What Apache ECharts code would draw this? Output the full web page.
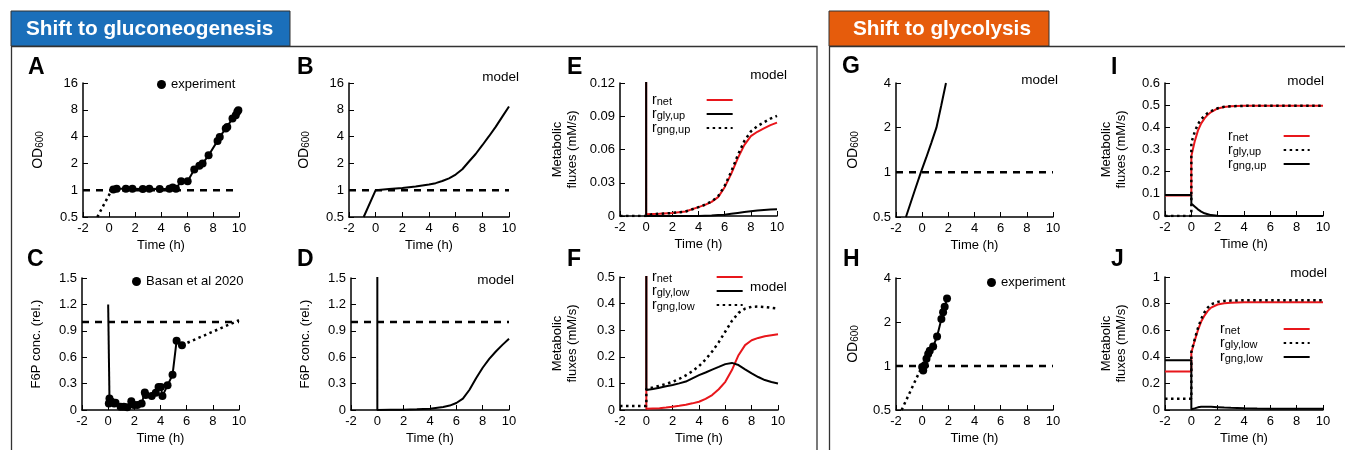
<!DOCTYPE html>
<html>
<head>
<meta charset="utf-8">
<script src="https://cdn.jsdelivr.net/npm/echarts@6/dist/echarts.min.js"></script>
<style>
  html, body { margin: 0; padding: 0; background: #fff; }
  #chart { width: 1345px; height: 450px; }
</style>
</head>
<body>
<div id="chart"></div>
<script>
const FONT = '"Liberation Sans", Arial, Helvetica, sans-serif'

// reference level (dashed line at OD = 1 / rel. conc. = 1)
const refTime = [-2, 10]
const refLevel = [1, 1]

// A: OD600, experiment after shift to gluconeogenesis
const aExpTime = [0.33, 0.59, 1.3, 1.8, 2.6, 3.1, 3.9, 4.65, 4.9, 5.15, 5.55, 6.05, 6.56, 6.95, 7.2, 7.66, 8.35, 8.52, 8.98, 9.1, 9.5, 9.75, 9.87, 9.95]
const aExpOD = [1.02, 1.04, 1.04, 1.04, 1.03, 1.04, 1.03, 1.04, 1.07, 1.04, 1.26, 1.26, 1.71, 1.88, 1.99, 2.47, 3.58, 3.97, 4.93, 5.14, 6.37, 6.95, 7.6, 7.9]
const aPreTime = [-0.9, 0.2]
const aPreOD = [0.5, 1.0]

// B: OD600, model
const bTime = [-0.9, 0, 1, 2, 3, 4, 4.5, 5, 5.5, 6, 6.5, 7, 7.5, 8, 8.5, 9, 9.5, 10]
const bOD = [0.5, 1.0, 1.03, 1.06, 1.1, 1.16, 1.2, 1.27, 1.36, 1.5, 1.72, 2.1, 2.55, 3.2, 4.04, 5.15, 6.7, 8.7]

// C: F6P, Basan et al 2020
const cDropTime = [0, 0.1]
const cDropF6P = [1.2, 0.13]
const cExpTime = [0.05, 0.1, 0.26, 0.46, 0.56, 0.95, 1.2, 1.46, 1.77, 1.97, 2.23, 2.56, 2.8, 2.87, 3.33, 3.64, 3.85, 4.03, 4.15, 4.54, 4.92, 5.23, 5.64]
const cExpF6P = [0.075, 0.13, 0.095, 0.075, 0.083, 0.038, 0.038, 0.03, 0.10, 0.057, 0.057, 0.075, 0.20, 0.17, 0.16, 0.196, 0.26, 0.26, 0.16, 0.28, 0.40, 0.786, 0.737]
const cTailTime = [5.64, 10]
const cTailF6P = [0.737, 1.02]

// D: F6P, model
const dTime = [-2, 0, 0, 1, 2, 3, 4, 5, 5.5, 6, 6.5, 7, 7.5, 8, 8.5, 9, 9.5, 10]
const dF6P = [3, 3, 0, 0.002, 0.004, 0.008, 0.014, 0.035, 0.05, 0.08, 0.13, 0.23, 0.36, 0.48, 0.58, 0.665, 0.74, 0.81]

// E: upper glycolysis fluxes, model
const eTime = [-2, 0, 0, 0.5, 1, 2, 3, 4, 4.5, 5, 5.5, 6, 6.5, 7, 7.5, 8, 8.5, 9, 9.5, 10]
const eNet = [0.5, 0.5, 0.0015, 0.0018, 0.002, 0.0027, 0.004, 0.008, 0.010, 0.0127, 0.017, 0.026, 0.038, 0.052, 0.064, 0.072, 0.076, 0.079, 0.082, 0.0843]
const eGly = [0.5, 0.5, 0, 0, 0, 0, 0, 0, 0.0002, 0.0004, 0.0008, 0.0012, 0.002, 0.0028, 0.0036, 0.0043, 0.005, 0.0055, 0.0058, 0.006]
const eGng = [0, 0, 0.0015, 0.0018, 0.002, 0.0027, 0.004, 0.008, 0.0102, 0.0131, 0.0178, 0.0272, 0.04, 0.0548, 0.0676, 0.0763, 0.081, 0.0845, 0.0878, 0.0903]

// F: lower glycolysis fluxes, model
const fTime = [-2, 0, 0, 0.5, 1, 1.5, 2, 2.5, 3, 3.5, 4, 4.5, 5, 5.5, 6, 6.5, 7, 7.5, 8, 8.5, 9, 9.5, 10]
const fNet = [0.8, 0.8, 0.005, 0.006, 0.007, 0.009, 0.0125, 0.016, 0.02, 0.025, 0.031, 0.042, 0.056, 0.078, 0.106, 0.15, 0.206, 0.244, 0.262, 0.271, 0.277, 0.281, 0.285]
const fGly = [0.8, 0.8, 0.075, 0.079, 0.084, 0.089, 0.094, 0.1, 0.107, 0.119, 0.131, 0.141, 0.152, 0.162, 0.1725, 0.177, 0.169, 0.153, 0.1375, 0.124, 0.1125, 0.105, 0.1]
const fGng = [0.015, 0.015, 0.08, 0.085, 0.091, 0.098, 0.106, 0.117, 0.13, 0.146, 0.165, 0.19, 0.22, 0.255, 0.295, 0.335, 0.365, 0.381, 0.388, 0.389, 0.387, 0.384, 0.381]

// G: OD600 after shift to glycolysis, model
const gTime = [-1.24, -0.6, -0.1, 0.3, 0.7, 1.09, 1.45, 1.82]
const gOD = [0.5, 0.74, 1.0, 1.25, 1.58, 2.0, 2.8, 4.0]

// H: OD600, experiment
const hExpTime = [0, 0.08, 0.2, 0.33, 0.46, 0.58, 0.84, 1.14, 1.47, 1.6, 1.72, 1.9]
const hExpOD = [0.985, 0.93, 1.01, 1.12, 1.21, 1.27, 1.36, 1.59, 2.1, 2.33, 2.54, 2.9]
const hPreTime = [-1.57, 0]
const hPreOD = [0.5, 1.0]

// I / J: fluxes after shift to glycolysis, model
const ijTime = [-2, 0, 0, 0.25, 0.5, 0.75, 1, 1.25, 1.5, 2, 2.5, 3, 4, 5, 6, 7, 8, 9, 10]
const iNet = [0.093, 0.093, 0.27, 0.335, 0.385, 0.418, 0.44, 0.457, 0.469, 0.485, 0.492, 0.495, 0.497, 0.497, 0.497, 0.497, 0.497, 0.497, 0.497]
const iGly = [0, 0, 0.33, 0.378, 0.414, 0.437, 0.452, 0.465, 0.473, 0.486, 0.4925, 0.495, 0.497, 0.497, 0.497, 0.497, 0.497, 0.497, 0.497]
const iGng = [0.095, 0.095, 0.056, 0.043, 0.03, 0.02, 0.012, 0.008, 0.004, 0.0015, 0.0005, 0, 0, 0, 0, 0, 0, 0, 0]
const jNet = [0.29, 0.29, 0.43, 0.52, 0.6, 0.665, 0.71, 0.745, 0.77, 0.793, 0.802, 0.806, 0.81, 0.81, 0.81, 0.81, 0.81, 0.81, 0.81]
const jGly = [0.085, 0.085, 0.435, 0.53, 0.615, 0.685, 0.735, 0.77, 0.795, 0.813, 0.82, 0.823, 0.825, 0.825, 0.825, 0.825, 0.825, 0.825, 0.825]
const jGng = [0.375, 0.375, 0.005, 0.012, 0.02, 0.024, 0.025, 0.025, 0.024, 0.021, 0.018, 0.016, 0.013, 0.011, 0.01, 0.01, 0.01, 0.01, 0.01]

// legend subscripts
const subText = {
  E_net: 'net', E_gly: 'gly,up', E_gng: 'gng,up',
  F_net: 'net', F_gly: 'gly,low', F_gng: 'gng,low',
  I_net: 'net', I_gly: 'gly,up', I_gng: 'gng,up',
  J_net: 'net', J_gly: 'gly,low', J_gng: 'gng,low'
}

const RED = '#e8161b'

function pairs(xs, ys) {
  return xs.map((x, i) => [x, ys[i]])
}

// panel order: A B E C D F G I H J
const grids = [
  { left: 83, top: 83, width: 156, height: 134 },
  { left: 349, top: 83, width: 160, height: 134 },
  { left: 620, top: 83, width: 157, height: 133 },
  { left: 82, top: 278, width: 157, height: 132 },
  { left: 351, top: 278, width: 158, height: 132 },
  { left: 620, top: 277, width: 158, height: 133 },
  { left: 896, top: 83, width: 157, height: 134 },
  { left: 1165, top: 83, width: 158, height: 133 },
  { left: 896, top: 278, width: 157, height: 132 },
  { left: 1165, top: 277, width: 158, height: 133 }
]

const labelStyle = { fontSize: 13, color: '#000', fontFamily: FONT }

function xAxis(gi) {
  return {
    type: 'value', gridIndex: gi, min: -2, max: 10, interval: 2,
    name: 'Time (h)', nameLocation: 'middle', nameGap: 22,
    nameTextStyle: labelStyle,
    axisLine: { onZero: false, lineStyle: { color: '#000', width: 1.5 } },
    axisTick: { inside: true, length: 5, lineStyle: { color: '#000', width: 1 } },
    axisLabel: Object.assign({ margin: 5 }, labelStyle),
    splitLine: { show: false }
  }
}

const odRich = {
  a: { fontSize: 14, lineHeight: 14, verticalAlign: 'top', color: '#000', fontFamily: FONT },
  b: { fontSize: 10, lineHeight: 4, verticalAlign: 'bottom', color: '#000', fontFamily: FONT }
}

function yAxis(gi, cfg) {
  const ax = {
    gridIndex: gi, nameLocation: 'middle', nameGap: cfg.gap,
    name: cfg.name,
    nameTextStyle: Object.assign({ lineHeight: 15, rich: odRich }, labelStyle),
    axisLine: { onZero: false, lineStyle: { color: '#000', width: 1.5 } },
    axisTick: { inside: true, length: 5, lineStyle: { color: '#000', width: 1 } },
    axisLabel: Object.assign({ margin: 5 }, labelStyle),
    splitLine: { show: false },
    min: cfg.min, max: cfg.max
  }
  if (cfg.log) {
    ax.type = 'log'
    ax.logBase = 2
    ax.splitNumber = cfg.split
  } else {
    ax.type = 'value'
    ax.interval = cfg.interval
  }
  return ax
}

const OD = '{a|OD}{b|600}'
const FLUX = 'Metabolic\nfluxes (mM/s)'
const F6P = 'F6P conc. (rel.)'

const yAxes = [
  yAxis(0, { name: OD, gap: 38, log: true, min: 0.5, max: 16, split: 5 }),
  yAxis(1, { name: OD, gap: 38, log: true, min: 0.5, max: 16, split: 5 }),
  yAxis(2, { name: FLUX, gap: 40, min: 0, max: 0.12, interval: 0.03 }),
  yAxis(3, { name: F6P, gap: 38, min: 0, max: 1.5, interval: 0.3 }),
  yAxis(4, { name: F6P, gap: 38, min: 0, max: 1.5, interval: 0.3 }),
  yAxis(5, { name: FLUX, gap: 40, min: 0, max: 0.5, interval: 0.1 }),
  yAxis(6, { name: OD, gap: 36, log: true, min: 0.5, max: 4, split: 3 }),
  yAxis(7, { name: FLUX, gap: 36, min: 0, max: 0.6, interval: 0.1 }),
  yAxis(8, { name: OD, gap: 36, log: true, min: 0.5, max: 4, split: 3 }),
  yAxis(9, { name: FLUX, gap: 36, min: 0, max: 1, interval: 0.2 })
]

const SOLID = 'solid'
const DASH = [7, 6]
const DOT = [2.5, 3.5]

function line(name, gi, data, color, type, extra) {
  return Object.assign({
    name, type: 'line', xAxisIndex: gi, yAxisIndex: gi, data,
    symbol: 'none', clip: true, silent: true,
    itemStyle: { color },
    lineStyle: { color, width: type === SOLID ? 2 : 2.5, type }
  }, extra || {})
}

function dots(name, gi, data) {
  return line(name, gi, data, '#000', SOLID, {
    symbol: 'circle', symbolSize: 8, showSymbol: true, z: 4
  })
}

const series = [
  // A
  line('A_ref', 0, pairs(refTime, refLevel), '#000', DASH),
  line('A_pre', 0, pairs(aPreTime, aPreOD), '#000', DOT),
  dots('A_exp', 0, pairs(aExpTime, aExpOD)),
  // B
  line('B_ref', 1, pairs(refTime, refLevel), '#000', DASH),
  line('B_model', 1, pairs(bTime, bOD), '#000', SOLID),
  // E
  line('E_net', 2, pairs(eTime, eNet), RED, SOLID),
  line('E_gly', 2, pairs(eTime, eGly), '#000', SOLID),
  line('E_gng', 2, pairs(eTime, eGng), '#000', DOT),
  // C
  line('C_ref', 3, pairs(refTime, refLevel), '#000', DASH),
  line('C_drop', 3, pairs(cDropTime, cDropF6P), '#000', SOLID),
  line('C_tail', 3, pairs(cTailTime, cTailF6P), '#000', DOT),
  dots('C_exp', 3, pairs(cExpTime, cExpF6P)),
  // D
  line('D_ref', 4, pairs(refTime, refLevel), '#000', DASH),
  line('D_model', 4, pairs(dTime, dF6P), '#000', SOLID),
  // F
  line('F_net', 5, pairs(fTime, fNet), RED, SOLID),
  line('F_gly', 5, pairs(fTime, fGly), '#000', SOLID),
  line('F_gng', 5, pairs(fTime, fGng), '#000', DOT),
  // G
  line('G_ref', 6, pairs(refTime, refLevel), '#000', DASH),
  line('G_model', 6, pairs(gTime, gOD), '#000', SOLID),
  // I
  line('I_net', 7, pairs(ijTime, iNet), RED, SOLID),
  line('I_gly', 7, pairs(ijTime, iGly), '#000', DOT),
  line('I_gng', 7, pairs(ijTime, iGng), '#000', SOLID),
  // H
  line('H_ref', 8, pairs(refTime, refLevel), '#000', DASH),
  line('H_pre', 8, pairs(hPreTime, hPreOD), '#000', DOT),
  dots('H_exp', 8, pairs(hExpTime, hExpOD)),
  // J
  line('J_net', 9, pairs(ijTime, jNet), RED, SOLID),
  line('J_gly', 9, pairs(ijTime, jGly), '#000', DOT),
  line('J_gng', 9, pairs(ijTime, jGng), '#000', SOLID)
]

const subRich = w => ({
  r: { fontSize: 14, lineHeight: 14, verticalAlign: 'top', align: 'left', color: '#000', fontFamily: FONT },
  s: { fontSize: 11, lineHeight: 4, verticalAlign: 'bottom', align: 'left', color: '#000', fontFamily: FONT, width: w }
})

function fluxLegend(names, left, top, w) {
  return {
    orient: 'vertical', left, top, padding: 0, align: 'right',
    itemWidth: 26, itemHeight: 10, itemGap: 0, selectedMode: false,
    itemStyle: { opacity: 0 },
    data: names,
    formatter: n => '{r|r}{s|' + subText[n] + '}',
    textStyle: { align: 'left', rich: subRich(w) }
  }
}

function expLegend(name, label, left, top) {
  return {
    left, top, padding: 0, itemWidth: 9, itemHeight: 9, itemGap: 0, selectedMode: false,
    data: [{ name, icon: 'circle' }],
    formatter: () => label,
    textStyle: labelStyle
  }
}

const legends = [
  expLegend('A_exp', 'experiment', 157, 78),
  expLegend('C_exp', 'Basan et al 2020', 132, 275),
  expLegend('H_exp', 'experiment', 987, 276),
  fluxLegend(['E_net', 'E_gly', 'E_gng'], 652, 93, 45),
  fluxLegend(['F_net', 'F_gly', 'F_gng'], 652, 270, 55),
  fluxLegend(['I_net', 'I_gly', 'I_gng'], 1228, 129, 46),
  fluxLegend(['J_net', 'J_gly', 'J_gng'], 1220, 322, 54)
]

function text(str, x, y, opts) {
  return {
    type: 'text', x, y, silent: true,
    style: Object.assign({
      text: str, fill: '#000', fontFamily: FONT, fontSize: 13,
      align: 'left', verticalAlign: 'middle'
    }, opts || {})
  }
}

const letter = (s, x, y) => text(s, x, y, { fontSize: 23, fontWeight: 'bold' })
const model = (x, y, align) => text('model', x, y, { align: align || 'right', fontSize: 13.5 })

const graphic = [
  { type: 'rect', silent: true, shape: { x: 11.5, y: 46.5, width: 805.5, height: 420 }, style: { fill: 'none', stroke: '#333', lineWidth: 1.3 } },
  { type: 'rect', silent: true, shape: { x: 829.5, y: 46.5, width: 530, height: 420 }, style: { fill: 'none', stroke: '#333', lineWidth: 1.3 } },
  { type: 'rect', silent: true, shape: { x: 11, y: 11, width: 279, height: 35 }, style: { fill: '#1b6fba', stroke: '#333', lineWidth: 1 } },
  { type: 'rect', silent: true, shape: { x: 829, y: 11, width: 220, height: 35 }, style: { fill: '#e65c0c', stroke: '#333', lineWidth: 1 } },
  text('Shift to gluconeogenesis', 26, 29, { fill: '#fff', fontSize: 20.8, fontWeight: 'bold' }),
  text('Shift to glycolysis', 853, 29, { fill: '#fff', fontSize: 20.8, fontWeight: 'bold' }),
  letter('A', 28, 68), letter('B', 297, 68), letter('E', 567, 68),
  letter('C', 27, 260), letter('D', 297, 260), letter('F', 567, 260),
  letter('G', 842, 67), letter('I', 1111, 68), letter('H', 843, 260), letter('J', 1111, 260),
  model(519, 77), model(787, 75), model(514, 280), model(750, 287, 'left'),
  model(1058, 80), model(1324, 81), model(1327, 273)
]

const chart = echarts.init(document.getElementById('chart'), null, { renderer: 'canvas' })
chart.setOption({
  animation: false,
  backgroundColor: '#fff',
  grid: grids,
  xAxis: grids.map((g, i) => xAxis(i)),
  yAxis: yAxes,
  legend: legends,
  series,
  graphic
})
</script>
</body>
</html>
